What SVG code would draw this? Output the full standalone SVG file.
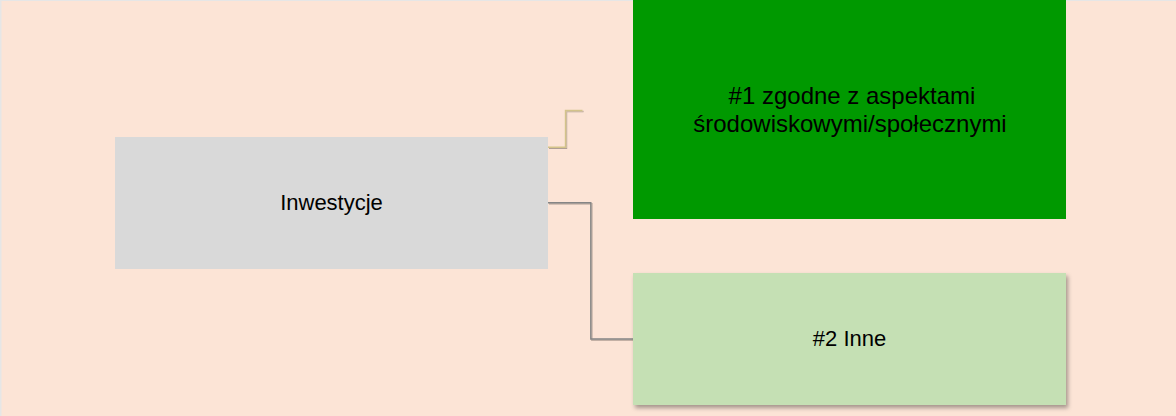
<svg xmlns="http://www.w3.org/2000/svg" width="1176" height="416" viewBox="0 0 1176 416">
  <style>
    .lbl { font-family: "Liberation Sans", Arial, sans-serif; fill: #000000; text-anchor: middle; }
    .conn { fill: none; stroke-width: 1.4; }
  </style>
  <defs>
    <filter id="shadow" x="-5%" y="-5%" width="115%" height="125%">
      <feDropShadow dx="2" dy="3" stdDeviation="2" flood-color="#000000" flood-opacity="0.35"/>
    </filter>
    <filter id="lshadow" x="-10%" y="-10%" width="130%" height="130%">
      <feDropShadow dx="1" dy="1" stdDeviation="0.6" flood-color="#000000" flood-opacity="0.3"/>
    </filter>
  </defs>
  <rect x="0" y="0" width="1176" height="416" fill="#e6e6e6"/>
  <rect x="1.5" y="1" width="1174.5" height="415" fill="#fce4d6"/>

  <g id="connectors">
    <path class="conn" d="M548,147.3 H565.5 V110.5 H582.5" stroke="#d3c38a" filter="url(#lshadow)"/>
    <path class="conn" d="M548,202.8 H590.8 V339 H633" stroke="#858585" filter="url(#lshadow)"/>
  </g>

  <g id="node-inwestycje">
    <rect x="115" y="137" width="433" height="132" fill="#d9d9d9"/>
    <text class="lbl" x="331.5" y="210" font-size="22">Inwestycje</text>
  </g>

  <g id="node-1">
    <rect x="633" y="0" width="433" height="219" fill="#009900"/>
    <text class="lbl" x="852" y="103.5" font-size="24">#1 zgodne z aspektami</text>
    <text class="lbl" x="850" y="132" font-size="24">środowiskowymi/społecznymi</text>
  </g>

  <g id="node-2">
    <rect x="633" y="273" width="433" height="132" fill="#c5e0b4" filter="url(#shadow)"/>
    <text class="lbl" x="849.5" y="346" font-size="22">#2 Inne</text>
  </g>
</svg>
